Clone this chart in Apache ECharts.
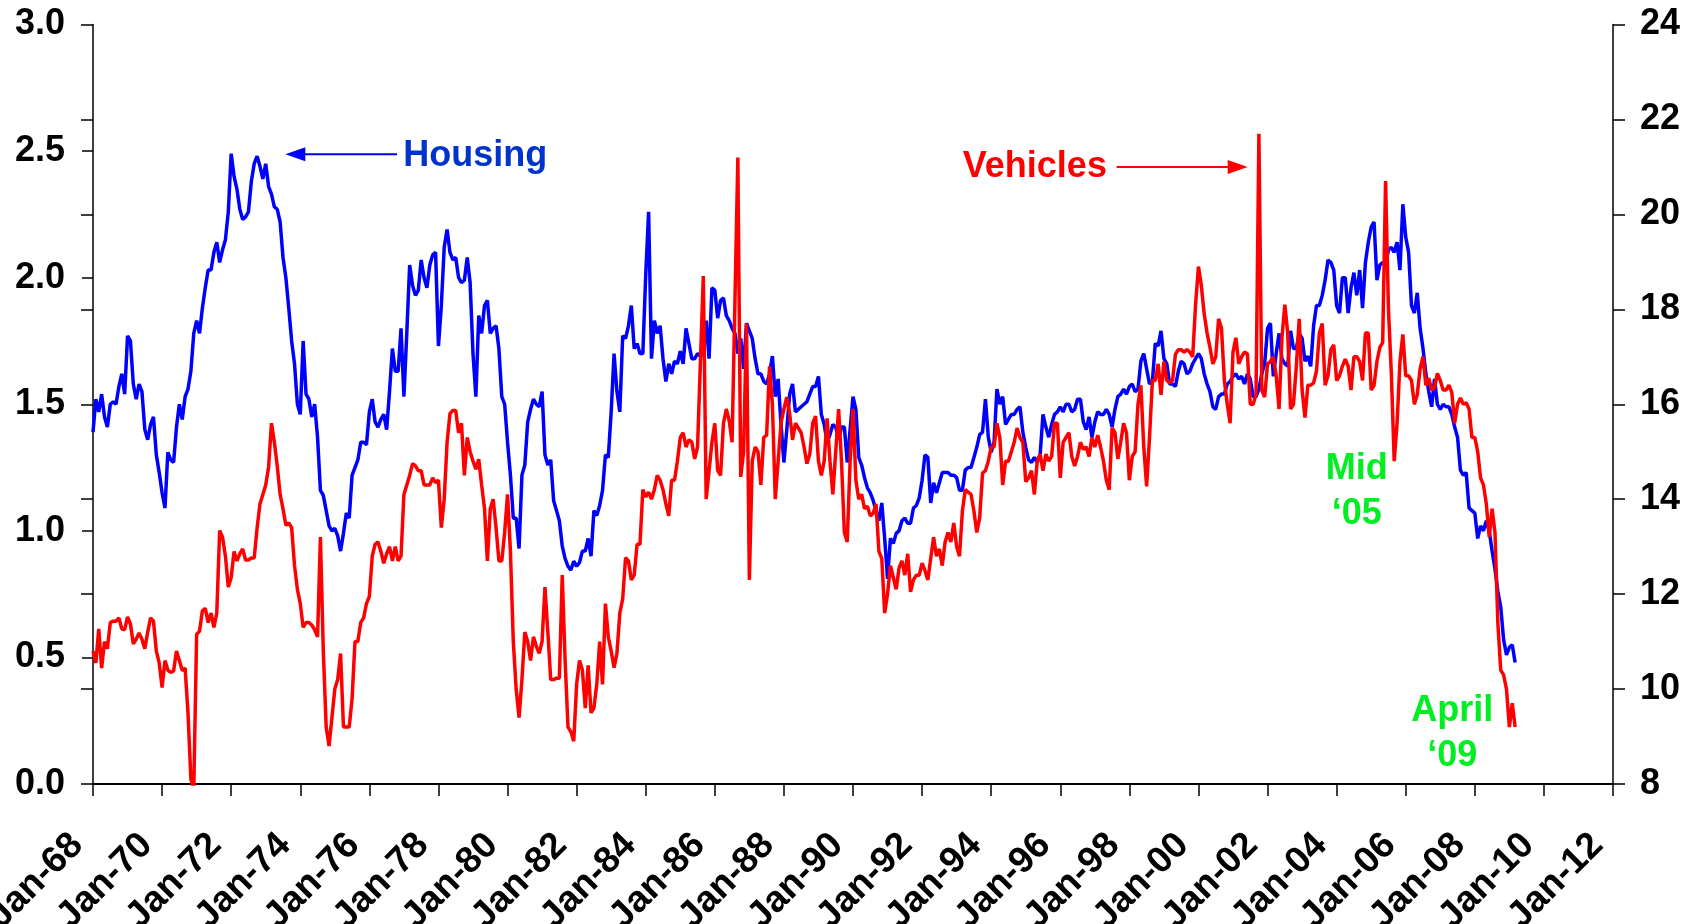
<!DOCTYPE html>
<html><head><meta charset="utf-8">
<style>html,body{margin:0;padding:0;background:#fff}#c{width:1686px;height:924px}</style>
<script src="https://cdn.jsdelivr.net/npm/echarts@6/dist/echarts.min.js"></script>
</head><body><div id="c"></div>
<script>
// Monthly data starting Jan 1968 (index 0 = Jan-68)
const startYear = 1968;
const housing = [
1.39,1.52,1.47,1.54,1.45,1.41,1.50,1.51,1.50,1.57,1.62,1.54,
1.77,1.75,1.58,1.52,1.58,1.55,1.40,1.36,1.42,1.45,1.30,1.23,
1.15,1.09,1.31,1.28,1.27,1.41,1.50,1.44,1.53,1.56,1.63,1.78,
1.83,1.78,1.88,1.96,2.03,2.03,2.10,2.14,2.06,2.11,2.15,2.26,
2.49,2.40,2.35,2.27,2.23,2.24,2.26,2.38,2.45,2.48,2.44,2.39,
2.45,2.36,2.33,2.28,2.27,2.22,2.08,2.00,1.88,1.75,1.66,1.50,
1.46,1.75,1.54,1.52,1.45,1.50,1.37,1.16,1.14,1.08,1.02,1.00,
1.01,0.98,0.92,0.99,1.07,1.05,1.22,1.25,1.28,1.35,1.35,1.34,
1.47,1.52,1.43,1.41,1.44,1.46,1.40,1.55,1.72,1.63,1.63,1.80,
1.53,1.78,2.05,1.97,1.93,1.95,2.07,2.00,1.96,2.05,2.09,2.10,
1.73,1.89,2.12,2.19,2.10,2.07,2.08,2.00,1.98,1.99,2.08,1.98,
1.70,1.53,1.85,1.78,1.89,1.91,1.78,1.80,1.81,1.72,1.53,1.50,
1.35,1.22,1.05,1.05,0.93,1.22,1.26,1.43,1.48,1.52,1.50,1.49,
1.55,1.30,1.26,1.28,1.12,1.08,1.04,0.94,0.89,0.86,0.845,0.88,
0.86,0.875,0.92,0.92,0.97,0.90,1.08,1.06,1.10,1.16,1.30,1.29,
1.47,1.70,1.55,1.47,1.77,1.76,1.81,1.89,1.72,1.74,1.70,1.70,
2.01,2.26,1.68,1.83,1.78,1.81,1.68,1.59,1.66,1.62,1.67,1.66,
1.71,1.66,1.80,1.74,1.68,1.68,1.70,1.69,1.70,1.83,1.68,1.96,
1.95,1.84,1.91,1.92,1.85,1.83,1.80,1.78,1.70,1.76,1.64,1.82,
1.79,1.76,1.68,1.62,1.62,1.59,1.58,1.62,1.69,1.53,1.60,1.42,
1.27,1.40,1.54,1.58,1.47,1.48,1.49,1.50,1.51,1.54,1.57,1.57,
1.61,1.46,1.42,1.35,1.38,1.42,1.41,1.36,1.41,1.41,1.27,1.40,
1.53,1.48,1.29,1.26,1.21,1.17,1.15,1.12,1.08,1.04,1.11,0.97,
0.81,0.97,0.95,0.99,1.00,1.04,1.05,1.03,1.03,1.09,1.10,1.13,
1.20,1.30,1.29,1.11,1.19,1.15,1.19,1.23,1.23,1.23,1.22,1.22,
1.21,1.16,1.16,1.24,1.25,1.25,1.29,1.33,1.38,1.39,1.52,1.37,
1.31,1.35,1.56,1.50,1.53,1.42,1.44,1.46,1.46,1.48,1.49,1.39,
1.33,1.28,1.27,1.29,1.27,1.30,1.46,1.41,1.37,1.42,1.46,1.47,
1.49,1.47,1.50,1.50,1.47,1.48,1.52,1.52,1.43,1.40,1.45,1.37,
1.43,1.47,1.46,1.46,1.48,1.46,1.41,1.48,1.53,1.54,1.56,1.54,
1.57,1.58,1.55,1.56,1.67,1.70,1.64,1.58,1.59,1.74,1.73,1.79,
1.68,1.66,1.58,1.58,1.57,1.63,1.67,1.66,1.62,1.63,1.66,1.68,
1.70,1.68,1.62,1.58,1.55,1.49,1.48,1.53,1.54,1.54,1.58,1.59,
1.61,1.62,1.60,1.61,1.58,1.62,1.60,1.53,1.53,1.56,1.62,1.66,
1.80,1.82,1.61,1.70,1.78,1.68,1.66,1.65,1.79,1.72,1.72,1.78,
1.76,1.67,1.69,1.65,1.81,1.89,1.89,1.93,1.99,2.07,2.06,2.03,
1.89,1.86,2.00,2.00,1.86,1.96,2.02,1.93,2.03,1.88,2.06,2.14,
2.20,2.22,1.99,2.05,2.06,2.05,2.11,2.12,2.10,2.14,2.03,2.29,
2.16,2.10,1.89,1.86,1.94,1.80,1.72,1.62,1.55,1.49,1.60,1.50,
1.48,1.50,1.49,1.49,1.46,1.41,1.37,1.24,1.22,1.23,1.09,1.08,
1.07,0.97,1.02,1.00,1.04,1.00,0.92,0.85,0.76,0.70,0.57,0.51,
0.54,0.55,0.48
];
const vehicles = [
10.80,10.55,11.27,10.44,11.00,10.85,11.40,11.43,11.43,11.50,11.27,11.25,
11.52,11.37,10.95,11.05,11.18,11.05,10.85,11.20,11.50,11.43,10.80,10.55,
10.03,10.60,10.40,10.35,10.38,10.80,10.60,10.39,10.44,9.50,8.10,7.90,
11.15,11.22,11.65,11.70,11.40,11.60,11.30,11.60,13.34,13.20,12.80,12.15,
12.35,12.90,12.70,12.85,12.95,12.72,12.72,12.76,12.76,13.39,13.90,14.10,
14.30,14.68,15.60,15.20,14.70,14.10,13.80,13.45,13.50,13.40,12.60,12.10,
11.80,11.30,11.40,11.40,11.35,11.25,11.10,13.20,10.80,9.20,8.80,9.40,
10.00,10.20,10.75,9.20,9.20,9.20,9.80,11.00,11.00,11.40,11.50,11.80,
11.95,12.80,13.05,13.10,12.90,12.65,12.85,13.00,12.70,13.00,12.70,12.80,
14.10,14.30,14.50,14.75,14.70,14.60,14.60,14.30,14.30,14.30,14.45,14.35,
14.40,13.40,14.00,15.20,15.80,15.87,15.87,15.40,15.60,14.50,15.30,15.00,
14.80,14.63,14.84,14.30,13.80,12.70,13.80,14.00,13.40,12.70,12.70,13.30,
14.10,12.90,11.00,10.00,9.40,10.20,11.20,11.00,10.60,11.10,10.90,10.75,
11.00,12.15,11.20,10.20,10.20,10.23,10.23,12.40,10.60,9.20,9.10,8.90,
10.10,10.60,10.40,9.60,10.50,9.50,9.60,10.10,11.00,10.10,11.80,11.10,
10.80,10.45,10.75,11.60,11.90,12.77,12.70,12.30,12.40,13.05,13.05,14.20,
14.05,14.15,14.00,14.20,14.50,14.40,14.20,13.90,13.65,14.40,14.40,14.80,
15.30,15.40,15.10,15.25,15.20,14.85,15.10,16.90,18.70,14.00,14.60,15.20,
15.60,14.60,14.50,15.60,15.90,15.65,15.20,18.20,21.20,14.47,15.00,17.70,
12.30,14.80,15.10,15.00,14.30,15.30,15.35,16.80,16.00,14.00,14.80,15.60,
15.90,16.15,15.80,15.25,15.60,15.50,15.40,15.10,14.75,14.95,15.60,15.75,
14.80,14.50,14.80,15.70,14.80,14.10,15.00,15.90,14.80,13.30,13.10,14.80,
15.90,14.40,14.00,14.10,13.80,13.85,13.65,13.70,13.90,12.90,12.75,11.60,
12.00,12.60,12.35,12.10,12.55,12.70,12.40,12.85,12.05,12.30,12.40,12.40,
12.65,12.50,12.30,12.75,13.20,12.80,12.95,12.60,13.10,13.30,13.10,13.50,
13.00,12.80,13.75,14.20,14.15,14.10,13.75,13.30,13.60,14.55,14.60,14.80,
15.10,15.10,15.60,15.30,14.30,14.80,14.80,15.00,15.20,15.50,15.30,15.20,
14.37,14.45,14.60,14.10,14.80,14.95,14.60,14.95,14.80,14.90,15.60,15.60,
14.45,15.20,15.30,15.40,14.90,14.70,14.90,15.20,15.05,15.10,14.90,15.30,
15.10,15.35,15.10,14.80,14.40,14.20,15.50,15.40,14.85,15.20,15.60,15.40,
14.40,14.90,15.00,16.00,16.40,15.10,14.27,15.30,16.50,16.50,16.85,16.20,
16.90,16.50,16.45,16.50,17.05,17.15,17.15,17.10,17.15,17.10,17.00,18.10,
18.90,18.50,17.90,17.50,17.20,16.85,17.00,17.80,17.60,16.50,16.00,15.60,
17.10,17.40,16.85,17.00,17.10,17.06,16.00,16.00,16.20,21.70,16.30,16.15,
16.85,16.90,17.00,16.60,15.90,17.40,18.10,17.50,15.90,16.00,16.80,17.80,
16.30,15.72,16.40,16.40,16.45,16.70,17.50,17.70,16.40,16.60,17.15,17.25,
16.50,16.60,16.80,16.95,16.80,16.30,17.00,17.00,16.90,16.50,17.50,17.50,
16.30,16.40,16.90,17.20,17.30,20.70,18.00,16.65,14.80,15.60,16.90,17.47,
16.60,16.60,16.50,16.00,16.20,16.75,17.00,16.40,16.55,16.30,16.35,16.65,
16.50,16.30,16.30,16.40,16.25,15.60,16.00,16.13,16.00,16.03,15.90,15.30,
15.30,15.00,14.45,14.30,13.90,13.20,13.80,13.30,11.40,10.40,10.30,10.00,
9.20,9.70,9.20
];
// Axis ranges / tick steps
const xTickStepMonths = 24;
const xMaxMonths = 528;
const leftRange = [0, 3, 0.5];
const rightRange = [8, 24, 2];

const FONT = '"Liberation Sans", Arial, Helvetica, sans-serif';
const chart = echarts.init(document.getElementById('c'), null, {renderer: 'canvas'});

const axisLabelBase = {color: '#000', fontFamily: FONT, fontWeight: 'bold'};
const option = {
  animation: false,
  backgroundColor: '#fff',
  grid: {left: 93, right: 73, top: 24.5, bottom: 140, containLabel: false, outerBoundsMode: 'none'},
  xAxis: {
    type: 'value', min: 0, max: xMaxMonths, interval: xTickStepMonths,
    axisLine: {show: true, onZero: false, lineStyle: {color: '#000', width: 2}},
    axisTick: {show: true, length: 12, lineStyle: {color: '#000', width: 1.5}},
    splitLine: {show: false},
    axisLabel: Object.assign({}, axisLabelBase, {
      fontSize: 37, rotate: 45, margin: 40, padding: [0, 22, 0, 0], hideOverlap: false,
      formatter: v => 'Jan-' + String((startYear + Math.round(v / 12)) % 100).padStart(2, '0')
    })
  },
  yAxis: [
    {
      type: 'value', min: leftRange[0], max: leftRange[1], interval: leftRange[2], position: 'left',
      axisLine: {show: true, onZero: false, lineStyle: {color: '#000', width: 1.5}},
      axisTick: {show: true, length: 11, lineStyle: {color: '#000', width: 1.5}},
      splitLine: {show: false},
      axisLabel: Object.assign({}, axisLabelBase, {fontSize: 36, margin: 28, formatter: v => v.toFixed(1)})
    },
    {
      type: 'value', min: rightRange[0], max: rightRange[1], interval: rightRange[2], position: 'right',
      axisLine: {show: true, onZero: false, lineStyle: {color: '#000', width: 1.5}},
      axisTick: {show: true, length: 12, lineStyle: {color: '#000', width: 1.5}},
      splitLine: {show: false},
      axisLabel: Object.assign({}, axisLabelBase, {fontSize: 36, margin: 27})
    },
    {
      type: 'value', min: rightRange[0], max: rightRange[1], interval: rightRange[2], position: 'right',
      axisLine: {show: false},
      axisTick: {show: true, inside: true, length: 12, lineStyle: {color: '#000', width: 1.5}},
      splitLine: {show: false},
      axisLabel: {show: false}
    }
  ],
  series: [
    {
      name: 'Housing', type: 'line', yAxisIndex: 0, showSymbol: false, symbol: 'none',
      data: housing.map((v, i) => [i, v]),
      lineStyle: {color: '#0000ff', width: 3.5}, itemStyle: {color: '#0000ff'}, z: 2
    },
    {
      name: 'Vehicles', type: 'line', yAxisIndex: 1, showSymbol: false, symbol: 'none',
      data: vehicles.map((v, i) => [i, v]),
      lineStyle: {color: '#ff0000', width: 3.5}, itemStyle: {color: '#ff0000'}, z: 3
    }
  ]
};
chart.setOption(option);

// Annotations placed in data coordinates (month index, left-axis value)
const P = (m, v) => chart.convertToPixel({xAxisIndex: 0, yAxisIndex: 0}, [m, v]);
const annFont = {fontFamily: FONT, fontWeight: 'bold', fontSize: 36};
function arrow(fromM, toM, val, color) {
  const a = P(fromM, val), b = P(toM, val);
  const dir = Math.sign(b[0] - a[0]);
  const headL = 20, headW = 7;
  return [
    {type: 'line', shape: {x1: a[0], y1: a[1], x2: b[0] - dir * headL * 0.8, y2: b[1]},
     style: {stroke: color, lineWidth: 2}, z: 10},
    {type: 'polygon', shape: {points: [[b[0], b[1]], [b[0] - dir * headL, b[1] - headW], [b[0] - dir * headL, b[1] + headW]]},
     style: {fill: color}, z: 10}
  ];
}
function text(m, v, str, color, align, lh) {
  const p = P(m, v);
  return {type: 'text', x: p[0], y: p[1], z: 10,
    style: Object.assign({text: str, fill: color, align: align, verticalAlign: 'middle', lineHeight: lh || 44}, annFont)};
}
const graphics = [].concat(
  arrow(105.6, 66.8, 2.487, '#0000ff'),
  [text(107.8, 2.48, 'Housing', '#0033cc', 'left')],
  arrow(355.6, 401.1, 2.437, '#ff0000'),
  [text(352.2, 2.437, 'Vehicles', '#ff0000', 'right')],
  [text(439.0, 1.156, 'Mid\n\u201805', '#00ee22', 'center', 45)],
  [text(472.2, 0.198, 'April\n\u201809', '#00ee22', 'center', 45)]
);
chart.setOption({graphic: graphics});
</script>
</body></html>
